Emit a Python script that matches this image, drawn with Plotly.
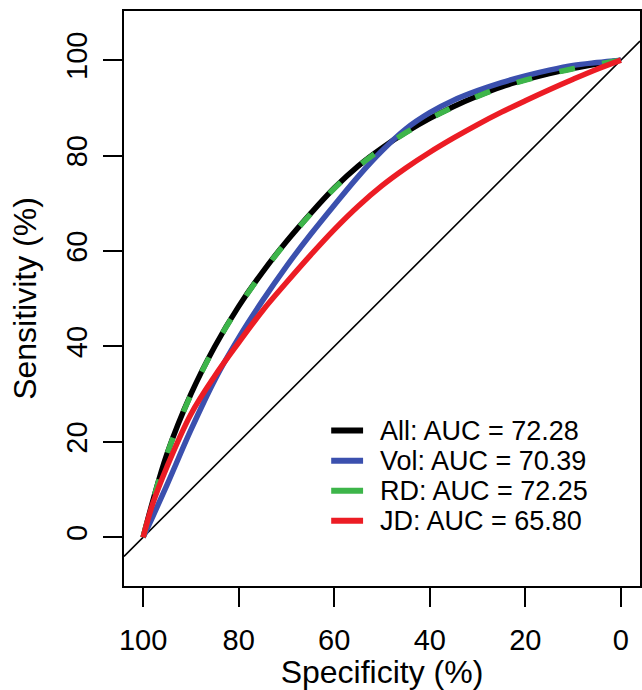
import plotly.graph_objects as go

# specificity grid (%), reversed axis like pROC
spec = [100, 98, 95, 90, 85, 80, 75, 70, 65, 60, 55, 50, 45, 40, 35, 30, 25, 20, 15, 10, 5, 0]

# sensitivity (%)
sens_all = [0, 7.5, 17.5, 30.0, 40.0, 48.4, 55.6, 62.0, 67.8, 73.2, 77.8, 81.6, 84.9, 87.8, 90.3, 92.5, 94.4, 95.9, 97.2, 98.3, 99.2, 100]
sens_vol = [0, 4.3, 11.0, 22.5, 33.0, 41.8, 49.6, 56.8, 63.4, 69.6, 75.6, 81.0, 85.6, 89.0, 91.6, 93.6, 95.3, 96.7, 97.9, 98.9, 99.5, 100]
sens_rd = [0, 7.4, 17.4, 29.9, 39.9, 48.3, 55.5, 61.9, 67.7, 73.1, 77.7, 81.5, 84.8, 87.7, 90.2, 92.4, 94.3, 95.8, 97.1, 98.2, 99.1, 100]
sens_jd = [0, 7.0, 14.8, 25.8, 33.8, 40.8, 47.5, 53.4, 59.1, 64.5, 69.4, 73.7, 77.4, 80.7, 83.7, 86.5, 89.1, 91.5, 93.8, 96.0, 98.1, 100]

labels = ["All: AUC = 72.28", "Vol: AUC = 70.39", "RD: AUC = 72.25", "JD: AUC = 65.80"]
colors = ["#000000", "#3B50AE", "#3DB54A", "#EC1C24"]

x_range = [104, -4]
y_range = [-10.2, 110.3]

FONT = "Liberation Sans, Arial, Helvetica, sans-serif"
W, H = 642, 690
ML, MR, MT, MB = 124, 0, 11, 102

fig = go.Figure()

# chance diagonal, sens = 100 - spec, across the whole panel
fig.add_trace(go.Scatter(x=x_range, y=[100 - v for v in x_range], mode="lines",
                         line=dict(color="black", width=1.6), showlegend=False, hoverinfo="skip"))

series = [sens_all, sens_vol, sens_rd, sens_jd]
for i, (ys, col) in enumerate(zip(series, colors)):
    dash = "16px,28px" if i == 2 else "solid"
    fig.add_trace(go.Scatter(x=spec, y=ys, mode="lines", name=labels[i], showlegend=False,
                             line=dict(color=col, width=5.5, shape="spline", dash=dash)))

# legend drawn by hand so the row spacing matches base R's legend()
pw, ph = W - ML - MR, H - MT - MB
def px_x(p):
    return (p - ML) / pw
def px_y(p):
    return 1 - (p - MT) / ph

for i, (lab, col) in enumerate(zip(labels, colors)):
    yy = px_y(432 + i * 30.2)
    fig.add_shape(type="line", xref="paper", yref="paper",
                  x0=px_x(332), x1=px_x(364), y0=yy, y1=yy,
                  line=dict(color=col, width=6))
    fig.add_annotation(text=lab, xref="paper", yref="paper", x=px_x(379), y=yy,
                       xanchor="left", yanchor="middle", showarrow=False,
                       font=dict(family=FONT, size=27, color="black"))

axis_common = dict(
    showgrid=False, zeroline=False, showline=True, mirror=True,
    linecolor="black", linewidth=2,
    ticks="outside", ticklen=19, tickwidth=1.6, tickcolor="black",
    tickfont=dict(family=FONT, size=29, color="black"),
)

fig.update_layout(
    width=W, height=H,
    margin=dict(l=ML, r=MR, t=MT, b=MB, pad=0),
    paper_bgcolor="white", plot_bgcolor="white",
    font=dict(family=FONT, color="black"),
    showlegend=False,
    xaxis=dict(range=x_range, tickvals=[100, 80, 60, 40, 20, 0],
               title=dict(text="Specificity (%)", font=dict(size=32), standoff=12),
               ticklabelstandoff=8, **axis_common),
    yaxis=dict(range=y_range, tickvals=[0, 20, 40, 60, 80, 100], tickangle=-90,
               title=dict(text="Sensitivity (%)", font=dict(size=32), standoff=15),
               ticklabelstandoff=4, **axis_common),
)

fig.write_html("out.html", config={"displayModeBar": False},
               post_script="document.body.style.margin='0';")
